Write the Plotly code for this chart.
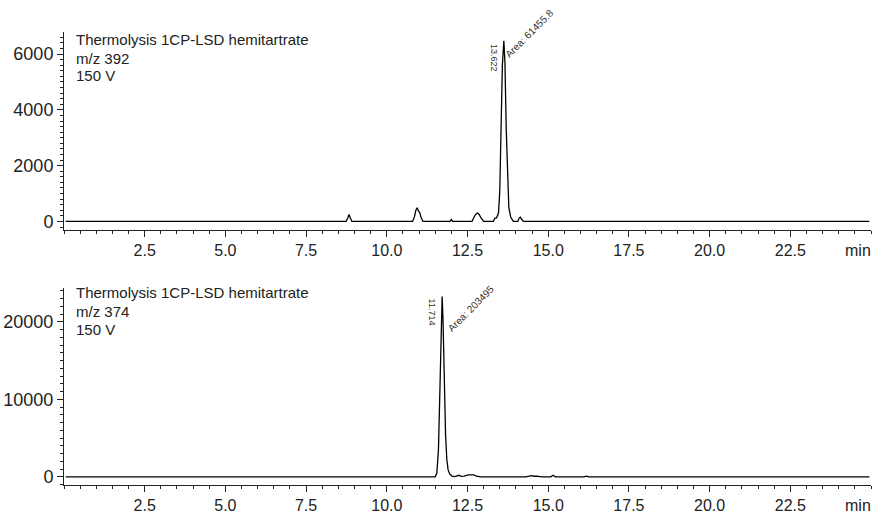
import plotly.graph_objects as go

# ---- data ----
t_top = [0.05, 8.74, 8.80, 8.83, 8.86, 8.92, 10.80, 10.86, 10.90, 10.94, 10.98, 11.02, 11.06, 11.12,
         11.96, 12.00, 12.04, 12.64, 12.70, 12.76, 12.81, 12.86, 12.92, 13.00, 13.30, 13.35, 13.40,
         13.46, 13.50, 13.54, 13.58, 13.626, 13.66, 13.70, 13.74, 13.78, 13.84, 13.92, 14.06, 14.10,
         14.14, 14.18, 14.24, 17.97, 18.00, 18.03, 24.95]
i_top = [0, 0, 150, 250, 150, 0, 0, 180, 400, 490, 380, 320, 150, 0,
         0, 70, 0, 0, 150, 260, 300, 250, 130, 0, 0, 120, 130,
         300, 1100, 3300, 5600, 6475, 5700, 3300, 1400, 500, 150, 0, 0, 120,
         155, 70, 0, 0, 25, 0, 0]

t_bot = [0.05, 11.50, 11.55, 11.60, 11.65, 11.69, 11.714, 11.74, 11.78, 11.82, 11.86, 11.90, 11.95,
         12.02, 12.10, 12.18, 12.24, 12.30, 12.40, 12.52, 12.62, 12.70, 12.78, 12.90, 14.30, 14.40,
         14.48, 14.56, 14.65, 14.80, 15.08, 15.15, 15.22, 16.10, 16.18, 16.26, 24.95]
i_bot = [0, 0, 500, 3500, 12000, 20500, 23265, 20500, 12500, 5500, 2200, 900, 350,
         100, 30, 100, 200, 60, 100, 250, 300, 250, 80, 0, 0, 100,
         150, 80, 100, 0, 0, 200, 0, 0, 100, 0, 0]

x_tickvals = [2.5, 5.0, 7.5, 10.0, 12.5, 15.0, 17.5, 20.0, 22.5]
x_ticktext = ["2.5", "5.0", "7.5", "10.0", "12.5", "15.0", "17.5", "20.0", "22.5"]
y_top_ticks = [0, 2000, 4000, 6000]
y_bot_ticks = [0, 10000, 20000]

title_top = ["Thermolysis 1CP-LSD hemitartrate", "m/z 392", "150 V"]
title_bot = ["Thermolysis 1CP-LSD hemitartrate", "m/z 374", "150 V"]
rt_top, area_top = "13.622", "Area: 61455.8"
rt_bot, area_bot = "11.714", "Area: 203495"

FONT = "Liberation Sans, Arial, sans-serif"
W, H = 877, 520

fig = go.Figure()
fig.add_trace(go.Scatter(x=t_top, y=i_top, mode="lines", line=dict(color="black", width=1.3),
                         xaxis="x", yaxis="y", showlegend=False, hoverinfo="skip"))
fig.add_trace(go.Scatter(x=t_bot, y=i_bot, mode="lines", line=dict(color="black", width=1.3),
                         xaxis="x2", yaxis="y2", showlegend=False, hoverinfo="skip"))

xdom = [64 / W, 871 / W]
common_x = dict(range=[0, 25], showline=True, linecolor="#222", linewidth=1, ticks="outside",
                ticklen=6, tickcolor="#222", tickvals=x_tickvals, ticktext=x_ticktext,
                showgrid=False, zeroline=False, tickfont=dict(size=16, color="#222", family=FONT),
                minor=dict(dtick=0.5, tick0=0, ticks="outside", ticklen=3, tickcolor="#222"))
common_y = dict(showline=True, linecolor="#222", linewidth=1, ticks="outside", ticklen=6,
                tickcolor="#222", showgrid=False, zeroline=False, tickformat="d",
                tickfont=dict(size=18, color="#222", family=FONT))

fig.update_layout(
    width=W, height=H, margin=dict(l=0, r=0, t=0, b=0),
    plot_bgcolor="white", paper_bgcolor="white", font=dict(family=FONT, color="#222"),
    xaxis=dict(domain=xdom, anchor="y", **common_x),
    yaxis=dict(domain=[1 - 231 / H, 1 - 32.3 / H], anchor="x", range=[-311, 6786],
               tickvals=y_top_ticks,
               minor=dict(dtick=200, tick0=0, ticks="outside", ticklen=3, tickcolor="#222"),
               **common_y),
    xaxis2=dict(domain=xdom, anchor="y2", **common_x),
    yaxis2=dict(domain=[1 - 487 / H, 1 - 289.3 / H], anchor="x2", range=[-1067, 24340],
                tickvals=y_bot_ticks,
                minor=dict(dtick=1000, tick0=0, ticks="outside", ticklen=3, tickcolor="#222"),
                **common_y),
)

ann = []
for lines, ys in ((title_top, [40, 58.3, 76]), (title_bot, [294, 312.7, 330.7])):
    for txt, yp in zip(lines, ys):
        ann.append(dict(text=txt, xref="paper", yref="paper", x=74 / W, y=1 - yp / H,
                        xanchor="left", yanchor="middle", showarrow=False,
                        font=dict(size=15, color="#222", family=FONT)))

ann += [
    dict(text=rt_top, xref="x", yref="y", x=13.30, y=5850, textangle=90, showarrow=False,
         xanchor="center", yanchor="middle", font=dict(size=9, color="#333", family=FONT)),
    dict(text=area_top, xref="x", yref="y", x=14.42, y=6725, textangle=-45, showarrow=False,
         xanchor="center", yanchor="middle", font=dict(size=10, color="#333", family=FONT)),
    dict(text=rt_bot, xref="x2", yref="y2", x=11.39, y=21234, textangle=90, showarrow=False,
         xanchor="center", yanchor="middle", font=dict(size=9, color="#333", family=FONT)),
    dict(text=area_bot, xref="x2", yref="y2", x=12.61, y=21684, textangle=-45, showarrow=False,
         xanchor="center", yanchor="middle", font=dict(size=10, color="#333", family=FONT)),
    dict(text="min", xref="x", yref="paper", x=24.61, y=1 - 251.5 / H, showarrow=False,
         xanchor="center", yanchor="middle", font=dict(size=16, color="#222", family=FONT)),
    dict(text="min", xref="x2", yref="paper", x=24.61, y=1 - 507.5 / H, showarrow=False,
         xanchor="center", yanchor="middle", font=dict(size=16, color="#222", family=FONT)),
]
fig.update_layout(annotations=ann)

fig.write_html("out.html", config={"displayModeBar": False},
               post_script="document.body.style.margin='0';document.body.style.padding='0';")
